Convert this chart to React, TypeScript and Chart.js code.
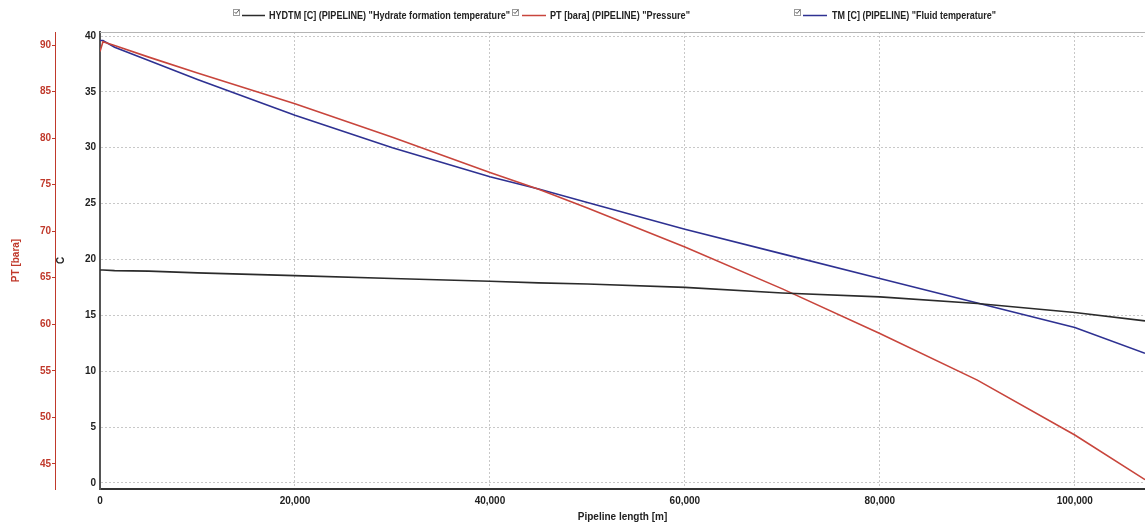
import React, { useEffect, useRef } from "react";
import { Chart, registerables } from "chart.js";

Chart.register(...registerables);

// Pipeline length [m]
const distance = [0, 300, 1500, 5000, 10000, 20000, 30000, 40000, 45000, 50000, 60000, 70000, 80000, 90000, 100000, 107200];
// HYDTM [C]
const hydrateTemp = [19.05, 19.05, 19.0, 18.95, 18.8, 18.55, 18.3, 18.05, 17.9, 17.8, 17.5, 17.0, 16.65, 16.05, 15.25, 14.5];
// PT [bara]
const pressure = [89.3, 90.35, 89.95, 88.7, 87.0, 83.7, 80.1, 76.3, 74.5, 72.5, 68.3, 63.8, 59.0, 54.0, 48.1, 43.3];
// TM [C]
const fluidTemp = [39.6, 39.6, 39.0, 37.8, 36.1, 32.9, 30.0, 27.4, 26.3, 25.1, 22.7, 20.5, 18.3, 16.1, 13.9, 11.6];

const seriesLabels = [
  'HYDTM [C] (PIPELINE) "Hydrate formation temperature"',
  'PT [bara] (PIPELINE) "Pressure"',
  'TM [C] (PIPELINE) "Fluid temperature"',
];
const seriesColors = ["#2b2b2b", "#c8453c", "#2e3192"];

const xTicks = [0, 20000, 40000, 60000, 80000, 100000];

const FONT_FAMILY = '"Liberation Sans Narrow", "Arial Narrow", "Liberation Sans", Arial, sans-serif';
const RED = "#c0392b";

const legendLayout = [
  { box: 233, lineStart: 242, lineEnd: 265, textStart: 269, textEnd: 510 },
  { box: 512, lineStart: 522, lineEnd: 546, textStart: 550, textEnd: 690 },
  { box: 794, lineStart: 803, lineEnd: 827, textStart: 832, textEnd: 996 },
];

const legendPlugin = {
  id: "customLegend",
  afterDraw(chart: any) {
    const ctx = chart.ctx as CanvasRenderingContext2D;
    const { left, right, top } = chart.chartArea;
    ctx.save();
    ctx.strokeStyle = "#b5b5b5";
    ctx.lineWidth = 1;
    ctx.beginPath();
    ctx.moveTo(left, top + 0.5);
    ctx.lineTo(right, top + 0.5);
    ctx.stroke();

    const y = 15;
    legendLayout.forEach((it, i) => {
      const ds = chart.data.datasets[i];
      ctx.strokeStyle = "#9a9a9a";
      ctx.lineWidth = 1;
      ctx.strokeRect(it.box + 0.5, y - 5.5, 6, 6);
      ctx.strokeStyle = "#555";
      ctx.beginPath();
      ctx.moveTo(it.box + 1.5, y - 3);
      ctx.lineTo(it.box + 3, y - 1.5);
      ctx.lineTo(it.box + 6, y - 5);
      ctx.stroke();
      ctx.strokeStyle = ds.borderColor;
      ctx.lineWidth = 1.5;
      ctx.beginPath();
      ctx.moveTo(it.lineStart, y + 0.5);
      ctx.lineTo(it.lineEnd, y + 0.5);
      ctx.stroke();
      ctx.fillStyle = "#222";
      ctx.font = `bold 11px ${FONT_FAMILY}`;
      ctx.textBaseline = "middle";
      ctx.textAlign = "left";
      ctx.fillText(ds.label, it.textStart, y + 1, it.textEnd - it.textStart);
    });
    ctx.restore();
  },
};

export default function App() {
  const canvasRef = useRef<HTMLCanvasElement | null>(null);

  useEffect(() => {
    document.body.style.margin = "0";
    const canvas = canvasRef.current;
    if (!canvas) return;

    const tickFont = { family: FONT_FAMILY, size: 10, weight: "bold" as const };

    const chart = new Chart(canvas, {
      type: "line",
      data: {
        datasets: [
          {
            label: seriesLabels[0],
            data: distance.map((d, i) => ({ x: d, y: hydrateTemp[i] })),
            borderColor: seriesColors[0],
            yAxisID: "y",
          },
          {
            label: seriesLabels[1],
            data: distance.map((d, i) => ({ x: d, y: pressure[i] })),
            borderColor: seriesColors[1],
            yAxisID: "pt",
          },
          {
            label: seriesLabels[2],
            data: distance.map((d, i) => ({ x: d, y: fluidTemp[i] })),
            borderColor: seriesColors[2],
            yAxisID: "y",
          },
        ],
      },
      options: {
        animation: false,
        responsive: false,
        layout: { padding: { top: 32, left: 0, right: 0, bottom: 0 } },
        plugins: {
          legend: { display: false },
          tooltip: { enabled: false },
        },
        elements: {
          point: { radius: 0 },
          line: { borderWidth: 1.6, tension: 0 },
        },
        scales: {
          x: {
            type: "linear",
            position: "bottom",
            min: 0,
            max: 107200,
            afterBuildTicks: (s: any) => {
              s.ticks = xTicks.map((v) => ({ value: v }));
            },
            ticks: {
              stepSize: 20000,
              includeBounds: false,
              maxRotation: 0,
              color: "#222",
              font: tickFont,
              padding: 6,
              callback: (v: any) => Number(v).toLocaleString("en-US"),
            },
            grid: { color: "#c8c8c8", drawTicks: false, lineWidth: 1 },
            border: { display: true, color: "#333", width: 2, dash: [2, 2] },
            title: {
              display: true,
              text: "Pipeline length [m]",
              color: "#222",
              font: tickFont,
              padding: { top: 2, bottom: 4 },
            },
            afterFit: (s: any) => {
              s.height = 38;
            },
          },
          y: {
            type: "linear",
            position: "left",
            weight: 0,
            min: -0.55,
            max: 40.36,
            ticks: {
              stepSize: 5,
              includeBounds: false,
              color: "#222",
              font: tickFont,
              padding: 4,
            },
            grid: { color: "#c8c8c8", drawTicks: false, lineWidth: 1 },
            border: { display: true, color: "#555", width: 2, dash: [2, 2] },
            title: {
              display: true,
              text: "C",
              color: "#222",
              font: tickFont,
              padding: { top: 0, bottom: 0 },
            },
            afterFit: (s: any) => {
              s.width = 45;
            },
          },
          pt: {
            type: "linear",
            position: "left",
            weight: 1,
            min: 42.3,
            max: 91.4,
            ticks: {
              stepSize: 5,
              includeBounds: false,
              color: RED,
              font: tickFont,
              padding: 1,
            },
            grid: {
              drawOnChartArea: false,
              drawTicks: true,
              tickLength: 3,
              color: RED,
            },
            border: { display: true, color: RED, width: 1 },
            title: {
              display: true,
              text: "PT [bara]",
              color: RED,
              font: tickFont,
              padding: { top: 10, bottom: 0 },
            },
            afterFit: (s: any) => {
              s.width = 55;
            },
          },
        },
      },
      plugins: [legendPlugin],
    });

    return () => {
      chart.destroy();
    };
  }, []);

  return (
    <div style={{ position: "relative", width: 1145, height: 527, background: "#fff" }}>
      <canvas ref={canvasRef} width={1145} height={527} style={{ display: "block" }} />
    </div>
  );
}
